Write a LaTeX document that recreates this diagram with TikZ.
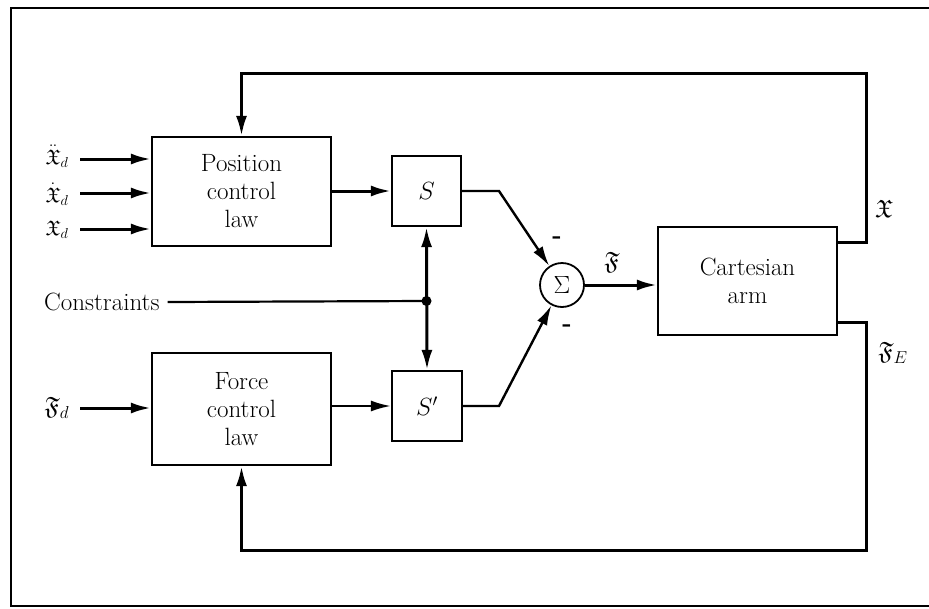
\documentclass[tikz,border=0pt]{standalone}
\usepackage{amssymb}
\usetikzlibrary{arrows.meta,calc}
\begin{document}
\begin{tikzpicture}[x=1pt,y=-1pt,
  every node/.style={font=\fontsize{25}{28}\selectfont},
  blk/.style={draw,line width=2.2pt,rectangle,inner sep=0pt,align=center},
  conn/.style={line width=3pt},
  arr/.style={conn,-{Latex[length=20pt,width=11pt]}},
  darr/.style={conn,{Latex[length=20pt,width=11pt]}-{Latex[length=20pt,width=11pt]}},
  lbl/.style={inner sep=0pt},
  inlbl/.style={inner sep=0pt,font=\fontsize{21}{21}\selectfont}]
\useasboundingbox (0,0) rectangle (929,608);
% outer frame
\draw[line width=2.6pt] (929,8) -- (11,8) -- (11,606) -- (929,606);
% blocks
\node[blk,minimum width=179pt,minimum height=109pt] (pos) at (241.5,191.5) {Position\\control\\law};
\node[blk,minimum width=179pt,minimum height=112pt] (force) at (241.5,409) {Force\\control\\law};
\node[blk,minimum width=69pt,minimum height=70pt] (S) at (426.5,191) {$S$};
\node[blk,minimum width=70pt,minimum height=70pt] (Sp) at (427,406) {$S'$};
\node[draw,circle,line width=1.8pt,minimum size=44pt,inner sep=0pt] (sig) at (562,285) {\fontsize{27}{27}\selectfont$\Sigma$};
\node[blk,minimum width=179pt,minimum height=108pt] (arm) at (747.5,281) {Cartesian\\arm};
% inputs
\node[inlbl] (xdd) at (57,156) {$\ddot{\mathfrak{X}}_d$};
\node[inlbl] (xd) at (57,194) {$\dot{\mathfrak{X}}_d$};
\node[inlbl] (x) at (57,230) {$\mathfrak{X}_d$};
\node[lbl] (fd) at (57,408) {$\mathfrak{F}_d$};
\coordinate (i1) at (80,159);
\coordinate (i2) at (80,193);
\coordinate (i3) at (80,229);
\coordinate (i4) at (80,408);
\draw[arr] (i1) -- (i1 -| pos.west);
\draw[arr] (i2) -- (i2 -| pos.west);
\draw[arr] (i3) -- (i3 -| pos.west);
\draw[arr] (i4) -- (i4 -| force.west);
% to selection matrices
\draw[arr] (pos.east |- S.west) -- (S.west);
\draw[arr,line width=2.2pt] (force.east |- Sp.west) -- (Sp.west);
% to summing junction
\coordinate (b1) at (499,191);
\coordinate (b2) at (499,406);
\draw[arr,line width=2.4pt] (S.east) -- (b1) -- (sig);
\draw[arr,line width=2.4pt] (Sp.east) -- (b2) -- (sig);
\node[lbl] (m1) at (557,240) {\textbf{-}};
\node[lbl] (m2) at (567,328) {\textbf{-}};
\draw[arr] (sig.east) -- (sig.east -| arm.west);
\node[lbl] (F) at (612,262) {$\mathfrak{F}$};
% constraints
\node[lbl,anchor=west] (con) at (44,302) {Constraints};
\coordinate (J) at (426.5,301);
\draw[line width=2.2pt] (con.east) ++(8pt,0) -- (J);
\fill (J) circle (5pt);
\draw[darr] (S.south) -- (Sp.north);
% feedback loops
\coordinate (o1) at (837,242);
\coordinate (o2) at (837,322);
\draw[arr] (o1) -- (866,242) -- (866,73) -- (241.5,73) -- (pos.north);
\draw[arr] (o2) -- (866,322) -- (866,550) -- (241.5,550) -- (force.south);
\node[lbl] (X) at (884,209) {$\mathfrak{X}$};
\node[lbl] (FE) at (893,353) {$\mathfrak{F}_E$};
\end{tikzpicture}
\end{document}
